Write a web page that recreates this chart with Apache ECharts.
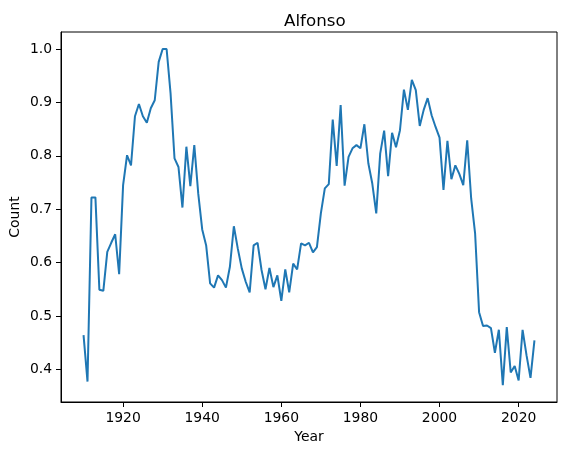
<!DOCTYPE html>
<html>
<head>
<meta charset="utf-8">
<script src="https://cdn.jsdelivr.net/npm/echarts@6/dist/echarts.min.js"></script>
<style>
    html, body { margin: 0; padding: 0; background: #fff; }
    #chart { width: 567px; height: 455px; }
</style>
</head>
<body>
<div id="chart"></div>
<script>
// values
var firstYear = 1910;
var counts = [
    0.464, 0.377, 0.722, 0.722, 0.549, 0.547, 0.620, 0.637, 0.653, 0.578,
    0.745, 0.801, 0.782, 0.874, 0.897, 0.874, 0.862, 0.889, 0.904, 0.976,
    1.000, 1.000, 0.917, 0.795, 0.779, 0.703, 0.817, 0.743, 0.820, 0.729,
    0.662, 0.632, 0.561, 0.553, 0.576, 0.567, 0.553, 0.592, 0.668, 0.626,
    0.589, 0.564, 0.544, 0.632, 0.637, 0.586, 0.550, 0.590, 0.554, 0.576,
    0.528, 0.587, 0.544, 0.598, 0.587, 0.636, 0.632, 0.637, 0.619, 0.629,
    0.692, 0.739, 0.747, 0.868, 0.781, 0.895, 0.744, 0.798, 0.814, 0.820,
    0.814, 0.859, 0.786, 0.748, 0.692, 0.804, 0.847, 0.762, 0.843, 0.816,
    0.848, 0.924, 0.886, 0.942, 0.923, 0.856, 0.886, 0.908, 0.876, 0.854,
    0.834, 0.736, 0.828, 0.756, 0.782, 0.766, 0.745, 0.829, 0.720, 0.654,
    0.507, 0.481, 0.482, 0.477, 0.431, 0.474, 0.370, 0.479, 0.394, 0.406,
    0.379, 0.474, 0.426, 0.384, 0.454
];
var xTicks = [1920, 1940, 1960, 1980, 2000, 2020];
var yTicks = [0.4, 0.5, 0.6, 0.7, 0.8, 0.9, 1.0];

var years = [];
for (var i = 0; i < counts.length; i++) {
    years.push(firstYear + i);
}
var points = years.map(function (y, i) { return [y, counts[i]]; });

var font = 'DejaVu Sans';
var myChart = echarts.init(document.getElementById('chart'));
myChart.setOption({
    animation: false,
    title: {
        text: 'Alfonso',
        left: 279,
        top: 8,
        textStyle: { fontFamily: font, fontSize: 16.7, fontWeight: 'normal', color: '#000' }
    },
    grid: {
        left: 61, right: 10, top: 32, bottom: 53,
        show: true, borderColor: '#000', borderWidth: 1,
        outerBoundsMode: 'none'
    },
    xAxis: {
        type: 'value',
        min: 1904.3,
        max: 2029.7,
        name: 'Year',
        nameLocation: 'middle',
        nameGap: 28,
        nameMoveOverlap: false,
        nameTextStyle: { fontFamily: font, fontSize: 13.9, color: '#000' },
        axisLine: { show: true, lineStyle: { color: '#000', width: 1 } },
        axisTick: { show: true, length: 5, customValues: xTicks, lineStyle: { color: '#000' } },
        axisLabel: {
            customValues: xTicks, margin: 9, fontFamily: font, fontSize: 13.9, color: '#000',
            formatter: function (v) { return String(v); }
        },
        splitLine: { show: false }
    },
    yAxis: {
        type: 'value',
        min: 0.3387,
        max: 1.0319,
        name: 'Count',
        nameLocation: 'middle',
        nameGap: 39,
        nameMoveOverlap: false,
        nameTextStyle: { fontFamily: font, fontSize: 13.9, color: '#000' },
        axisLine: { show: true, lineStyle: { color: '#000', width: 1 } },
        axisTick: { show: true, length: 5, customValues: yTicks, lineStyle: { color: '#000' } },
        axisLabel: {
            customValues: yTicks, margin: 9, fontFamily: font, fontSize: 13.9, color: '#000',
            formatter: function (v) { return v.toFixed(1); }
        },
        splitLine: { show: false }
    },
    series: [{
        type: 'line',
        data: points,
        showSymbol: false,
        lineStyle: { color: '#1f77b4', width: 2 },
        itemStyle: { color: '#1f77b4' }
    }]
});
</script>
</body>
</html>
